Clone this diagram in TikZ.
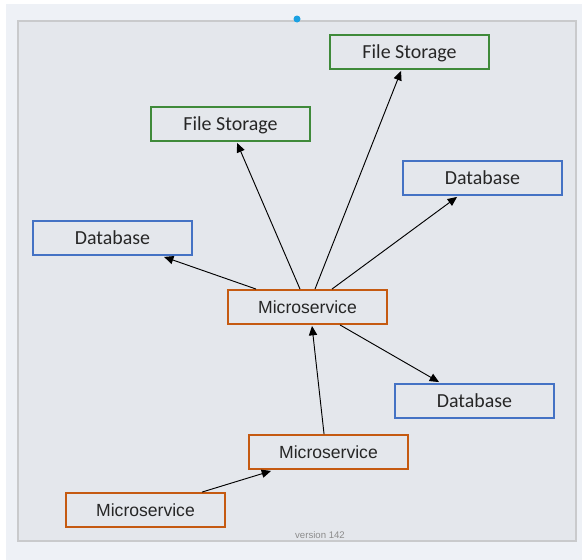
\documentclass[tikz,border=0pt]{standalone}
\usepackage{fontspec}
\setmainfont{Carlito}
\newfontfamily\arialfont{Liberation Sans}
\usetikzlibrary{arrows.meta, calc}

\definecolor{pagebg}{HTML}{EEF1F6}
\definecolor{framebg}{HTML}{E4E7EC}
\definecolor{frameline}{HTML}{C9CACC}
\definecolor{svcorange}{HTML}{C55A11}
\definecolor{dbblue}{HTML}{4472C4}
\definecolor{fsgreen}{HTML}{3F8A3A}
\definecolor{dotblue}{HTML}{1BA1E2}

\begin{document}
\begin{tikzpicture}[x=0.03cm, y=-0.03cm,
    box/.style={draw, line width=1.6pt, fill=framebg, minimum width=4.77cm,
        minimum height=1.02cm, inner sep=0pt, text=black!85},
    service/.style={box, draw=svcorange, font=\arialfont\fontsize{15}{18}\selectfont},
    database/.style={box, draw=dbblue, font=\fontsize{17}{20}\selectfont},
    filestore/.style={box, draw=fsgreen, text depth=0pt, font=\fontsize{17}{20}\selectfont},
    arr/.style={-{Triangle[length=8pt, width=7pt]}, line width=0.8pt, black}]
    \useasboundingbox (0,0) rectangle (582,560);

    % Page and frame
    \fill[pagebg] (6,4) rectangle (582,560);
    \draw[frameline, fill=framebg, line width=1.6pt] (18,21) rectangle (576,541);
    \fill[dotblue] (297,19) circle (3.5);
    \node[text=black!45, font=\arialfont\fontsize{8.2}{10}\selectfont] (ver) at (320,535) {version 142};

    % Storage nodes
    \node[filestore] (fsTop) at (409.5,52) {File Storage};
    \node[filestore] (fsLeft) at (230.5,124) {File Storage};
    \node[database] (dbRight) at (482.5,178) {Database};
    \node[database] (dbLeft) at (112.5,238) {Database};
    \node[database] (dbLow) at (474.5,401) {Database};

    % Services
    \node[service] (svcMain) at (307.5,307) {Microservice};
    \node[service] (svcMid) at (328.5,452) {Microservice};
    \node[service] (svcLow) at (145.5,510) {Microservice};

    % Calls from the main service
    \draw[arr] ($(svcMain.north west)+(29,0)$) -- ($(dbLeft.south west)+(132,1)$);
    \draw[arr] ($(svcMain.north)+(-7.5,0)$) -- ($(fsLeft.south west)+(87,1)$);
    \draw[arr] ($(svcMain.north)+(7.5,0)$) -- ($(fsTop.south west)+(72,1)$);
    \draw[arr] ($(svcMain.north)+(24.5,0)$) -- ($(dbRight.south west)+(55,1)$);
    \draw[arr] ($(svcMain.south)+(32.5,0)$) -- ($(dbLow.north west)+(45,-1)$);

    % Calls between services
    \draw[arr] ($(svcMid.north west)+(76,0)$) -- ($(svcMain.south)+(4.5,1)$);
    \draw[arr] ($(svcLow.north west)+(137,0)$) -- ($(svcMid.south west)+(23,1)$);
\end{tikzpicture}
\end{document}
